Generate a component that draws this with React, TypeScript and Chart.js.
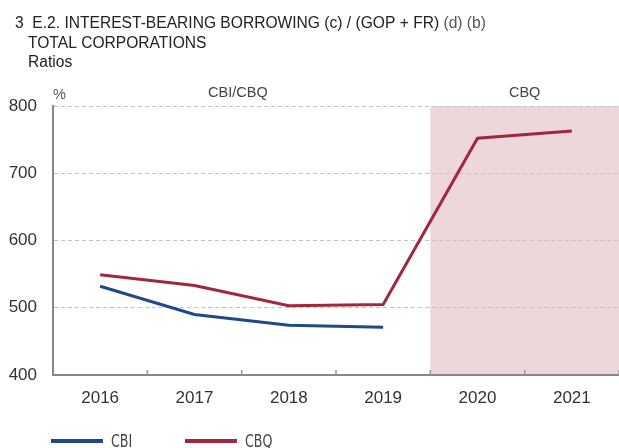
import { useEffect, useRef } from "react";
import { Chart, registerables } from "chart.js";

Chart.register(...registerables);

const categories = ["2016", "2017", "2018", "2019", "2020", "2021"];
const cbiValues: (number | null)[] = [532, 490, 474, 471, null, null];
const cbqValues: (number | null)[] = [549, 533, 503, 505, 752, 763];
const yTickValues = [400, 500, 600, 700, 800];
const titleMain = "3  E.2. INTEREST-BEARING BORROWING (c) / (GOP + FR) ";
const titleNotes = "(d) (b)";
const subtitle1 = "TOTAL CORPORATIONS";
const subtitle2 = "Ratios";
const unitLabel = "%";
const regionLeftLabel = "CBI/CBQ";
const regionRightLabel = "CBQ";
const shadeStartIndex = 4;

const BLUE = "#1E4A8C";
const RED = "#A0283E";
const SHADE = "#EDD7DB";
const FONT = "'Liberation Sans', Arial, sans-serif";
const NARROW = "'Liberation Sans Narrow', 'DejaVu Sans Condensed', sans-serif";

const decorPlugin = {
  id: "decor",
  beforeDraw(chart: any) {
    const { ctx, chartArea, scales } = chart;
    const x = scales.x;
    const xs = (x.getPixelForValue(shadeStartIndex - 1) + x.getPixelForValue(shadeStartIndex)) / 2;
    ctx.save();
    ctx.fillStyle = SHADE;
    ctx.fillRect(xs, chartArea.top, chartArea.right - xs, chartArea.bottom - chartArea.top);
    ctx.restore();
  },
  afterDraw(chart: any) {
    const { ctx, chartArea, scales } = chart;
    const x = scales.x;
    const step = x.getPixelForValue(1) - x.getPixelForValue(0);
    ctx.save();
    // inward tick marks at category boundaries
    ctx.strokeStyle = "#999";
    ctx.lineWidth = 1.5;
    for (let i = 1; i <= categories.length; i++) {
      const px = x.getPixelForValue(i) - step / 2;
      ctx.beginPath();
      ctx.moveTo(px, chartArea.bottom);
      ctx.lineTo(px, chartArea.bottom - 5);
      ctx.stroke();
    }
    // titles
    ctx.textBaseline = "alphabetic";
    ctx.textAlign = "left";
    ctx.font = `15.6px ${FONT}`;
    ctx.fillStyle = "#222";
    ctx.fillText(titleMain, 15, 28);
    const w = ctx.measureText(titleMain).width;
    ctx.fillStyle = "#555";
    ctx.fillText(titleNotes, 15 + w, 28);
    ctx.fillStyle = "#222";
    ctx.fillText(subtitle1, 28, 48);
    ctx.fillText(subtitle2, 28, 67);
    // region labels
    const xs = (x.getPixelForValue(shadeStartIndex - 1) + x.getPixelForValue(shadeStartIndex)) / 2;
    ctx.font = `14.5px ${FONT}`;
    ctx.fillStyle = "#444";
    ctx.textBaseline = "middle";
    ctx.textAlign = "center";
    ctx.fillText(regionLeftLabel, chartArea.left + (xs - chartArea.left) * 0.49, 93);
    ctx.fillText(regionRightLabel, (xs + chartArea.right) / 2, 93);
    ctx.textAlign = "left";
    ctx.fillStyle = "#555";
    ctx.fillText(unitLabel, chartArea.left, 95);
    // legend
    const items = chart.data.datasets.map((d: any) => ({ label: d.label, color: d.borderColor }));
    const starts = [51, 185];
    items.forEach((it: any, i: number) => {
      const lx = starts[i];
      ctx.fillStyle = it.color;
      ctx.fillRect(lx, 439, 52, 4);
      ctx.save();
      ctx.translate(lx + 60, 447);
      ctx.scale(1, 1.32);
      ctx.font = `14px ${NARROW}`;
      ctx.fillStyle = "#444";
      ctx.textBaseline = "alphabetic";
      ctx.fillText(it.label, 0, 0);
      ctx.restore();
    });
    ctx.restore();
  },
};

export default function App() {
  const ref = useRef<HTMLCanvasElement>(null);
  useEffect(() => {
    document.body.style.margin = "0";
    const canvas = ref.current!;
    const chart = new Chart(canvas, {
      type: "line",
      data: {
        labels: categories,
        datasets: [
          {
            label: "CBI",
            data: cbiValues,
            borderColor: BLUE,
            backgroundColor: BLUE,
            borderWidth: 3,
            pointRadius: 0,
            tension: 0,
            spanGaps: false,
          },
          {
            label: "CBQ",
            data: cbqValues,
            borderColor: RED,
            backgroundColor: RED,
            borderWidth: 3,
            pointRadius: 0,
            tension: 0,
          },
        ],
      },
      options: {
        animation: false,
        responsive: false,
        maintainAspectRatio: false,
        layout: { padding: { top: 106, left: 0, right: 0, bottom: 0 } },
        plugins: {
          legend: { display: false },
          title: { display: false },
          tooltip: { enabled: false },
        },
        scales: {
          x: {
            type: "category",
            offset: true,
            grid: { display: false, drawTicks: false },
            border: { display: true, color: "#888", width: 2 },
            ticks: {
              padding: 13,
              color: "#333",
              font: { family: FONT, size: 17 },
              maxRotation: 0,
            },
            afterFit(scale: any) {
              scale.height = 73;
            },
          },
          y: {
            min: 400,
            max: 800,
            afterBuildTicks(scale: any) {
              scale.ticks = yTickValues.map((v) => ({ value: v }));
            },
            grid: {
              drawTicks: false,
              color: (c: any) => (c.tick && c.tick.value === 400 ? "rgba(0,0,0,0)" : "#c4c4c4"),
              lineWidth: 1,
            },
            border: { display: true, color: "#888", width: 2, dash: [4, 3] },
            ticks: {
              padding: 16,
              color: "#333",
              font: { family: FONT, size: 17 },
            },
            afterFit(scale: any) {
              scale.width = 53;
            },
          },
        },
      },
      plugins: [decorPlugin],
    });
    return () => chart.destroy();
  }, []);
  return (
    <div style={{ width: 619, height: 448 }}>
      <canvas ref={ref} width={619} height={448} style={{ display: "block", width: 619, height: 448 }} />
    </div>
  );
}
